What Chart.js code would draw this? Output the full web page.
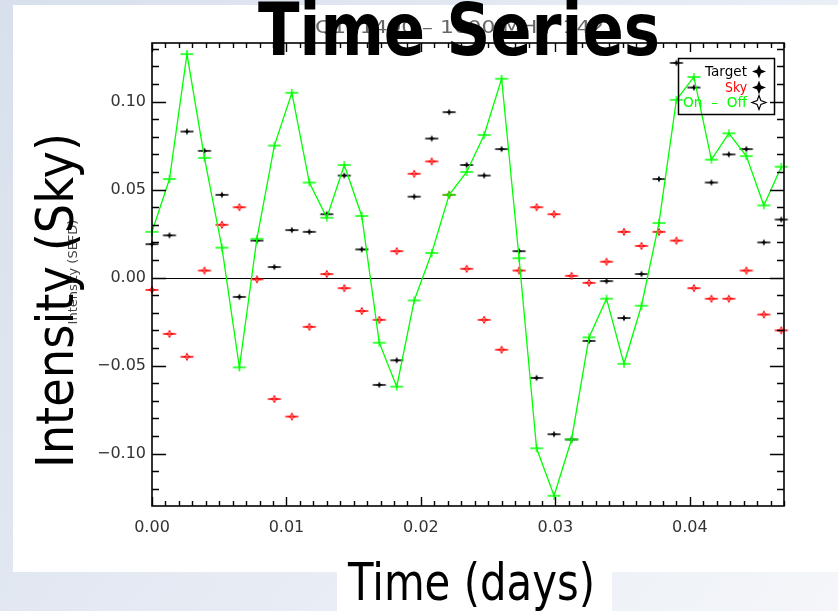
<!DOCTYPE html>
<html>
<head>
<meta charset="utf-8">
<script src="https://cdn.jsdelivr.net/npm/chart.js@4.4.1/dist/chart.umd.min.js"></script>
<style>
  html, body { margin: 0; padding: 0; overflow: hidden; background: #fff; }
  canvas { display: block; }
</style>
</head>
<body>
<canvas id="c" width="838" height="611"></canvas>
<script>
// Observation times (days since start of scan)
const times = [0.0000, 0.0013, 0.0026, 0.0039, 0.0052, 0.0065, 0.0078, 0.0091, 0.0104, 0.0117,
               0.0130, 0.0143, 0.0156, 0.0169, 0.0182, 0.0195, 0.0208, 0.0221, 0.0234, 0.0247,
               0.0260, 0.0273, 0.0286, 0.0299, 0.0312, 0.0325, 0.0338, 0.0351, 0.0364, 0.0377,
               0.0390, 0.0403, 0.0416, 0.0429, 0.0442, 0.0455, 0.0468];

// On-source intensity
const target = [0.019, 0.024, 0.083, 0.072, 0.047, -0.011, 0.021, 0.006, 0.027, 0.026,
                0.036, 0.058, 0.016, -0.061, -0.047, 0.046, 0.079, 0.094, 0.064, 0.058,
                0.073, 0.015, -0.057, -0.089, -0.092, -0.036, -0.002, -0.023, 0.002, 0.056,
                0.122, 0.108, 0.054, 0.070, 0.073, 0.020, 0.033];

// Off-source (sky) intensity
const sky = [-0.007, -0.032, -0.045, 0.004, 0.030, 0.040, -0.001, -0.069, -0.079, -0.028,
             0.002, -0.006, -0.019, -0.024, 0.015, 0.059, 0.066, 0.047, 0.005, -0.024,
             -0.041, 0.004, 0.040, 0.036, 0.001, -0.003, 0.009, 0.026, 0.018, 0.026,
             0.021, -0.006, -0.012, -0.012, 0.004, -0.021, -0.030];

// On minus off
const onOff = [0.026, 0.056, 0.127, 0.068, 0.017, -0.051, 0.022, 0.075, 0.105, 0.054,
               0.034, 0.064, 0.035, -0.037, -0.062, -0.013, 0.014, 0.047, 0.060, 0.081,
               0.113, 0.011, -0.097, -0.124, -0.092, -0.034, -0.012, -0.049, -0.016, 0.031,
               0.101, 0.114, 0.067, 0.082, 0.069, 0.041, 0.063];

const xTickValues = [0.00, 0.01, 0.02, 0.03, 0.04];
const yTickValues = [-0.10, -0.05, 0.00, 0.05, 0.10];
const seriesNames = ['Target', 'Sky', 'On  \u2013  Off'];

const plotTitle = 'Time Series';
const plotSubTitle = 'Q1  1400 \u2013 1600 MHz  1421';
const xTitle = 'Time (days)';
const yTitle = 'Intensity (Sky)';
const ySubTitle = 'Intensity (SEFD)';

const GREEN = '#00ff00';
const RED = '#ff0000';
const FONT = "'DejaVu Sans', sans-serif";

// Point symbol: a short horizontal bar with a small star / cross in the middle
function makeMarker(color, kind) {
  const c = document.createElement('canvas');
  c.width = 16; c.height = 10;
  const g = c.getContext('2d');
  const cx = 8, cy = 5;
  g.strokeStyle = color;
  g.fillStyle = color;
  g.lineWidth = 1.5;
  g.beginPath(); g.moveTo(1.5, cy); g.lineTo(14.5, cy); g.stroke();
  if (kind === 'cross') {
    g.lineWidth = 1.3;
    g.beginPath(); g.moveTo(cx, cy - 4); g.lineTo(cx, cy + 4); g.stroke();
  } else {
    g.beginPath();
    starPath(g, cx, cy, 3.6, 1.1);
    if (kind === 'filled') { g.fill(); } else { g.lineWidth = 1; g.stroke(); }
  }
  return c;
}

function starPath(g, cx, cy, r, ri) {
  g.moveTo(cx, cy - r);
  g.lineTo(cx + ri, cy - ri);
  g.lineTo(cx + r, cy);
  g.lineTo(cx + ri, cy + ri);
  g.lineTo(cx, cy + r);
  g.lineTo(cx - ri, cy + ri);
  g.lineTo(cx - r, cy);
  g.lineTo(cx - ri, cy - ri);
  g.closePath();
}

const targetMarker = makeMarker('#000000', 'filled');
const skyMarker = makeMarker(RED, 'open');
const onOffMarker = makeMarker(GREEN, 'cross');

function pairs(ys) { return times.map((t, i) => ({ x: t, y: ys[i] })); }

// Draws text stretched/squeezed horizontally so that it spans the given length
function drawFitted(ctx, text, font, x, y, length, angle) {
  ctx.save();
  ctx.font = font;
  const w = ctx.measureText(text).width;
  ctx.translate(x, y);
  if (angle) ctx.rotate(angle);
  ctx.scale(length / w, 1);
  ctx.textAlign = 'left';
  ctx.textBaseline = 'alphabetic';
  ctx.fillText(text, 0, 0);
  ctx.restore();
}

const slidePlugin = {
  id: 'slide',
  beforeDraw(chart) {
    const ctx = chart.ctx;
    const grad = ctx.createLinearGradient(0, 0, 838, 611);
    grad.addColorStop(0, '#d8e0ed');
    grad.addColorStop(1, '#f4f6fa');
    ctx.save();
    ctx.fillStyle = grad;
    ctx.fillRect(0, 0, 838, 611);
    ctx.fillStyle = '#ffffff';
    ctx.fillRect(13, 5, 825, 567);
    ctx.fillRect(337, 572, 275, 39);
    ctx.restore();
  },
  beforeDatasetsDraw(chart) {
    // zero line
    const ctx = chart.ctx, a = chart.chartArea, ys = chart.scales.y;
    const y0 = Math.round(ys.getPixelForValue(0)) + 0.5;
    ctx.save();
    ctx.strokeStyle = '#000';
    ctx.lineWidth = 1.2;
    ctx.beginPath(); ctx.moveTo(a.left, y0); ctx.lineTo(a.right, y0); ctx.stroke();
    ctx.restore();
  },
  afterDraw(chart) {
    const ctx = chart.ctx, a = chart.chartArea;
    const xs = chart.scales.x, ys = chart.scales.y;
    ctx.save();

    // frame
    ctx.strokeStyle = '#000';
    ctx.lineWidth = 1.6;
    ctx.strokeRect(a.left, a.top, a.right - a.left, a.bottom - a.top);

    // inward ticks on all four sides
    ctx.lineWidth = 1.4;
    ctx.beginPath();
    for (let i = 0; i <= 47; i++) {
      const x = Math.round(xs.getPixelForValue(i / 1000)) + 0.5;
      const len = (i % 10 === 0) ? 9 : 5;
      ctx.moveTo(x, a.bottom); ctx.lineTo(x, a.bottom - len);
      ctx.moveTo(x, a.top); ctx.lineTo(x, a.top + len);
    }
    for (let k = -12; k <= 13; k++) {
      const y = Math.round(ys.getPixelForValue(k / 100)) + 0.5;
      const len = (k % 5 === 0) ? 14 : 7;
      ctx.moveTo(a.left, y); ctx.lineTo(a.left + len, y);
      ctx.moveTo(a.right, y); ctx.lineTo(a.right - len, y);
    }
    ctx.stroke();

    // legend
    ctx.lineWidth = 1.5;
    ctx.strokeStyle = '#000';
    ctx.strokeRect(678.5, 58.5, 96, 56);
    ctx.font = '14px ' + FONT;
    ctx.textAlign = 'right';
    ctx.textBaseline = 'alphabetic';
    const legendColors = ['#000000', RED, GREEN];
    const baselines = [76, 92, 107];
    for (let i = 0; i < seriesNames.length; i++) {
      ctx.fillStyle = legendColors[i];
      drawFittedRight(ctx, seriesNames[i], 747, baselines[i], i === 2 ? 64 : (i === 0 ? 42 : 22));
      ctx.beginPath();
      starPath(ctx, 759, baselines[i] - 4.5, 7, 1.9);
      if (i < 2) { ctx.fillStyle = '#000'; ctx.fill(); }
      else { ctx.lineWidth = 1.2; ctx.strokeStyle = '#000'; ctx.stroke(); }
    }

    // small titles underneath the large ones
    ctx.fillStyle = '#666';
    drawFitted(ctx, plotSubTitle, '17px ' + FONT, 315, 33, 303, 0);
    ctx.fillStyle = '#444';
    ctx.save();
    ctx.font = '13px ' + FONT;
    ctx.translate(77, 272);
    ctx.rotate(-Math.PI / 2);
    ctx.textAlign = 'center';
    ctx.fillText(ySubTitle, 0, 0);
    ctx.restore();

    // large titles
    ctx.fillStyle = '#000';
    drawFitted(ctx, plotTitle, 'bold 73px ' + FONT, 258, 55, 402, 0);
    drawFitted(ctx, yTitle, '52px ' + FONT, 73, 468, 335, -Math.PI / 2);
    drawFitted(ctx, xTitle, '52px ' + FONT, 348, 600, 247, 0);

    ctx.restore();
  }
};

// Right-aligned text fitted to a given width (ends at x)
function drawFittedRight(ctx, text, x, y, length) {
  const w = ctx.measureText(text).width;
  ctx.save();
  ctx.translate(x - length, y);
  ctx.scale(length / w, 1);
  ctx.textAlign = 'left';
  ctx.fillText(text, 0, 0);
  ctx.restore();
}

new Chart(document.getElementById('c'), {
  type: 'scatter',
  data: {
    datasets: [
      {
        label: seriesNames[0],
        data: pairs(target),
        showLine: false,
        pointStyle: targetMarker,
        pointRadius: 6,
        borderColor: '#000',
        backgroundColor: '#000',
        clip: false,
        order: 1
      },
      {
        label: seriesNames[1],
        data: pairs(sky),
        showLine: false,
        pointStyle: skyMarker,
        pointRadius: 6,
        borderColor: RED,
        backgroundColor: RED,
        clip: false,
        order: 2
      },
      {
        label: seriesNames[2],
        data: pairs(onOff),
        showLine: true,
        borderColor: GREEN,
        backgroundColor: GREEN,
        borderWidth: 1.3,
        tension: 0,
        pointStyle: onOffMarker,
        pointRadius: 6,
        clip: false,
        order: 0
      }
    ]
  },
  options: {
    responsive: false,
    animation: false,
    events: [],
    layout: { padding: { top: 43, right: 54, left: 0, bottom: 0 } },
    plugins: {
      legend: { display: false },
      title: { display: false },
      tooltip: { enabled: false }
    },
    scales: {
      x: {
        type: 'linear',
        position: 'bottom',
        min: 0,
        max: 0.047,
        grid: { display: false, drawTicks: false },
        border: { display: false },
        afterBuildTicks: s => { s.ticks = xTickValues.map(v => ({ value: v })); },
        afterFit: s => { s.height = 105; },
        ticks: {
          autoSkip: false,
          maxRotation: 0,
          padding: 12,
          color: '#333',
          font: { family: 'DejaVu Sans', size: 16 },
          callback: v => Number(v).toFixed(2)
        }
      },
      y: {
        type: 'linear',
        position: 'left',
        min: -0.1298,
        max: 0.1333,
        grid: { display: false, drawTicks: false },
        border: { display: false },
        afterBuildTicks: s => { s.ticks = yTickValues.map(v => ({ value: v })); },
        afterFit: s => { s.width = 152; },
        ticks: {
          autoSkip: false,
          padding: 6,
          color: '#333',
          font: { family: 'DejaVu Sans', size: 16 },
          callback: v => (v < 0 ? '\u2212' : '') + Math.abs(v).toFixed(2)
        }
      }
    }
  },
  plugins: [slidePlugin]
});
</script>
</body>
</html>
